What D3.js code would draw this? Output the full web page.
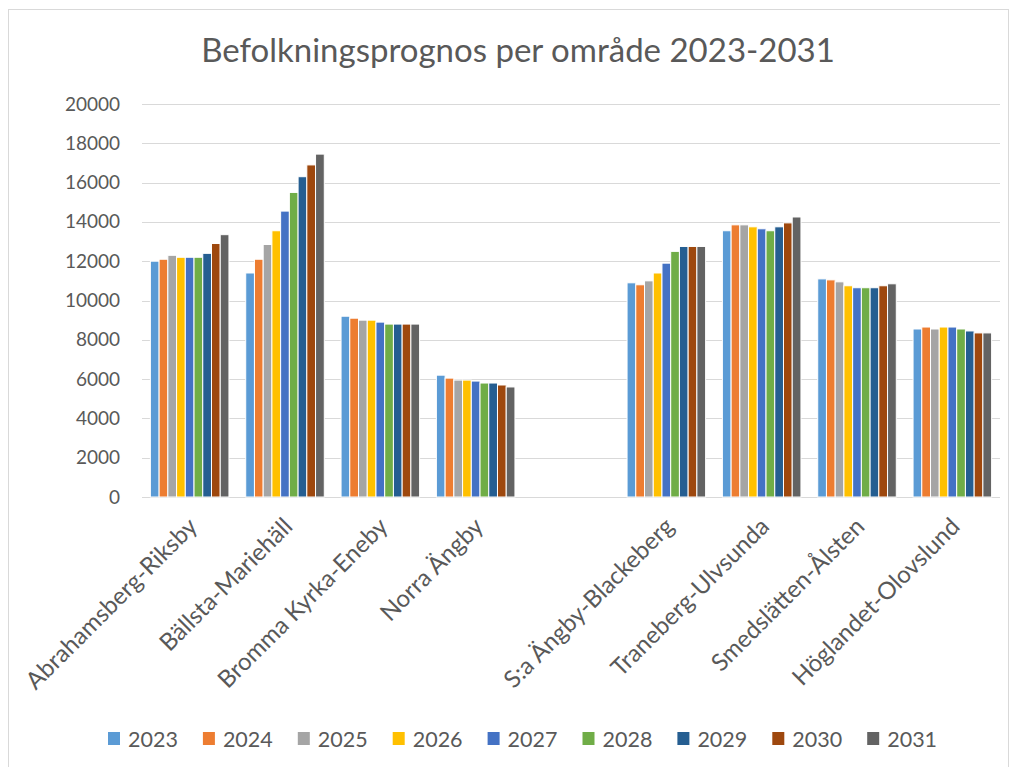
<!DOCTYPE html>
<html>
<head>
<meta charset="utf-8">
<script src="https://cdn.jsdelivr.net/npm/d3@7"></script>
<style>
  html, body { margin: 0; padding: 0; background: #ffffff; }
  svg { display: block; }
  text { font-family: Lato, "Open Sans", sans-serif; fill: #595959; }
</style>
</head>
<body>
<svg id="chart" width="1016" height="767"></svg>
<script>
const title = "Befolkningsprognos per område 2023-2031";
const categories = [
  "Abrahamsberg-Riksby", "Bällsta-Mariehäll", "Bromma Kyrka-Eneby", "Norra Ängby", "",
  "S:a Ängby-Blackeberg", "Traneberg-Ulvsunda", "Smedslätten-Ålsten", "Höglandet-Olovslund"
];
const years = ["2023", "2024", "2025", "2026", "2027", "2028", "2029", "2030", "2031"];
const colors = ["#5B9BD5", "#ED7D31", "#A5A5A5", "#FFC000", "#4472C4", "#70AD47", "#255E91", "#9E480E", "#636363"];
const yTicks = [0, 2000, 4000, 6000, 8000, 10000, 12000, 14000, 16000, 18000, 20000];

// values per category, one per year 2023..2031
const abrahamsberg = [12000, 12100, 12300, 12200, 12200, 12200, 12400, 12900, 13350];
const ballsta      = [11400, 12100, 12850, 13550, 14550, 15500, 16300, 16900, 17450];
const brommaKyrka  = [9200, 9100, 9000, 9000, 8900, 8800, 8800, 8800, 8800];
const norraAngby   = [6200, 6050, 5950, 5950, 5900, 5800, 5800, 5700, 5600];
const emptySlot    = [null, null, null, null, null, null, null, null, null];
const saAngby      = [10900, 10800, 11000, 11400, 11900, 12500, 12750, 12750, 12750];
const traneberg    = [13550, 13850, 13850, 13750, 13650, 13550, 13750, 13950, 14250];
const smedslatten  = [11100, 11050, 10950, 10750, 10650, 10650, 10650, 10750, 10850];
const hoglandet    = [8550, 8650, 8550, 8650, 8650, 8550, 8450, 8350, 8350];
const seriesByCategory = [abrahamsberg, ballsta, brommaKyrka, norraAngby, emptySlot,
                          saAngby, traneberg, smedslatten, hoglandet];

const svg = d3.select("#chart");

// chart border
svg.append("rect")
  .attr("x", 8.5).attr("y", 9.5).attr("width", 1000).attr("height", 770)
  .attr("fill", "#ffffff").attr("stroke", "#d9d9d9").attr("stroke-width", 1);

const plot = { left: 142, right: 1000, top: 104, bottom: 497 };

const x0 = d3.scaleBand()
  .domain(d3.range(categories.length))
  .range([plot.left, plot.right])
  .paddingInner(0).paddingOuter(0);

const groupPad = x0.bandwidth() * 0.088;
const x1 = d3.scaleBand()
  .domain(years)
  .range([groupPad, x0.bandwidth() - groupPad])
  .padding(0);

const y = d3.scaleLinear().domain([0, 20000]).range([plot.bottom, plot.top]);

// gridlines
svg.append("g").selectAll("line")
  .data(yTicks)
  .join("line")
  .attr("x1", plot.left).attr("x2", plot.right)
  .attr("y1", d => Math.round(y(d)) + 0.5).attr("y2", d => Math.round(y(d)) + 0.5)
  .attr("stroke", "#d9d9d9").attr("stroke-width", 1.2);

// y axis labels
const yAxis = d3.axisLeft(y).tickValues(yTicks).tickSize(0).tickPadding(0).tickFormat(d3.format("d"));
const yg = svg.append("g").attr("transform", `translate(${plot.left - 22},0)`).call(yAxis);
yg.select(".domain").remove();
yg.selectAll("text").style("font-size", "19px").attr("fill", "#595959")
  .style("font-family", "Lato, sans-serif");

// bars
const groups = svg.append("g").selectAll("g")
  .data(seriesByCategory)
  .join("g")
  .attr("transform", (d, i) => `translate(${x0(i)},0)`);

groups.selectAll("rect")
  .data(d => d.map((v, j) => ({ v, j })).filter(e => e.v !== null))
  .join("rect")
  .attr("x", e => x1(years[e.j]))
  .attr("width", x1.bandwidth())
  .attr("y", e => y(e.v))
  .attr("height", e => y(0) - y(e.v))
  .attr("fill", e => colors[e.j])
  .attr("stroke", "#ffffff").attr("stroke-width", 1);

// category labels
svg.append("g").selectAll("text")
  .data(categories)
  .join("text")
  .attr("transform", (d, i) => `translate(${x0(i) + x0.bandwidth() / 2 + 9},${plot.bottom + 31}) rotate(-45)`)
  .attr("text-anchor", "end")
  .style("font-size", "24px")
  .text(d => d);

// title
svg.append("text")
  .attr("x", 518).attr("y", 62)
  .attr("text-anchor", "middle")
  .style("font-size", "33px")
  .text(title);

// legend
const legendX = d3.scaleBand().domain(years).range([108, 108 + 94.9 * years.length]);
const lg = svg.append("g").selectAll("g")
  .data(years)
  .join("g")
  .attr("transform", d => `translate(${legendX(d)},0)`);
lg.append("rect")
  .attr("x", 0).attr("y", 732).attr("width", 12).attr("height", 13)
  .attr("fill", (d, i) => colors[i]);
lg.append("text")
  .attr("x", 20).attr("y", 747)
  .style("font-size", "21.5px")
  .text(d => d);
</script>
</body>
</html>
